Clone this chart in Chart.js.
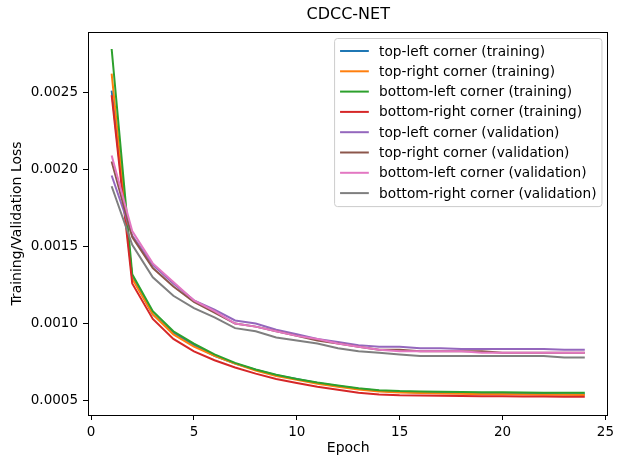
<!DOCTYPE html>
<html>
<head>
<meta charset="utf-8">
<script src="https://cdn.jsdelivr.net/npm/chart.js@4/dist/chart.umd.min.js"></script>
<style>
  html, body { margin: 0; padding: 0; background: #fff; }
  #wrap { width: 618px; height: 457px; position: relative; }
</style>
</head>
<body>
<div id="wrap"><canvas id="loss-chart"></canvas></div>
<script>
// ── Data ────────────────────────────────────────────────────────────────────
const epochs = [1, 2, 3, 4, 5, 6, 7, 8, 9, 10, 11, 12, 13, 14, 15, 16, 17, 18, 19, 20, 21, 22, 23, 24];

const chartTitle = 'CDCC-NET';
const seriesLabels = [
    'top-left corner (training)',
    'top-right corner (training)',
    'bottom-left corner (training)',
    'bottom-right corner (training)',
    'top-left corner (validation)',
    'top-right corner (validation)',
    'bottom-left corner (validation)',
    'bottom-right corner (validation)'
];

const topLeftTrain = [0.00251, 0.00130, 0.00106, 0.00094, 0.00086, 0.00079, 0.00074, 0.00070, 0.000665, 0.00064, 0.000615, 0.000595, 0.000578, 0.000565, 0.000558, 0.000553, 0.00055, 0.000548, 0.000546, 0.000545, 0.000544, 0.000543, 0.000542, 0.000541];
const topRightTrain = [0.00262, 0.00129, 0.00106, 0.00093, 0.00085, 0.00079, 0.00074, 0.000695, 0.00066, 0.000635, 0.00061, 0.00059, 0.000573, 0.00056, 0.000553, 0.000549, 0.000546, 0.000544, 0.000542, 0.000541, 0.00054, 0.000539, 0.000538, 0.000537];
const bottomLeftTrain = [0.00278, 0.00132, 0.00108, 0.00095, 0.00087, 0.0008, 0.000745, 0.000702, 0.000668, 0.00064, 0.000617, 0.000598, 0.00058, 0.000568, 0.000562, 0.00056, 0.000558, 0.000556, 0.000555, 0.000554, 0.000553, 0.000552, 0.000552, 0.000551];
const bottomRightTrain = [0.00248, 0.00126, 0.00103, 0.0009, 0.00082, 0.000762, 0.000715, 0.000675, 0.00064, 0.000614, 0.00059, 0.00057, 0.000552, 0.00054, 0.000535, 0.000533, 0.000531, 0.00053, 0.000529, 0.000528, 0.000527, 0.000527, 0.000526, 0.000525];

const topLeftVal = [0.00196, 0.00157, 0.00138, 0.00126, 0.00115, 0.00109, 0.00102, 0.00100, 0.00096, 0.00093, 0.0009, 0.00088, 0.00086, 0.00085, 0.00085, 0.00084, 0.00084, 0.000835, 0.000835, 0.000835, 0.000835, 0.000835, 0.00083, 0.00083];
const topRightVal = [0.00205, 0.00156, 0.00136, 0.00124, 0.00114, 0.00107, 0.00100, 0.00098, 0.00095, 0.00092, 0.00089, 0.00087, 0.00085, 0.00083, 0.00083, 0.00082, 0.00082, 0.00082, 0.00082, 0.00081, 0.00081, 0.00081, 0.00081, 0.00081];
const bottomLeftVal = [0.00209, 0.00160, 0.00139, 0.00127, 0.00115, 0.00108, 0.00100, 0.00098, 0.00095, 0.00092, 0.0009, 0.00087, 0.00085, 0.00083, 0.00082, 0.00082, 0.00082, 0.00082, 0.00081, 0.00081, 0.00081, 0.00081, 0.00081, 0.00081];
const bottomRightVal = [0.00189, 0.00151, 0.00130, 0.00118, 0.0011, 0.00104, 0.00097, 0.00095, 0.00091, 0.00089, 0.00087, 0.00084, 0.00082, 0.00081, 0.0008, 0.00079, 0.00079, 0.00079, 0.00079, 0.00079, 0.00079, 0.00079, 0.00078, 0.00078];

const xTicks = [0, 5, 10, 15, 20, 25];
const yTicks = [0.0005, 0.0010, 0.0015, 0.0020, 0.0025];

// matplotlib tab10
const COLORS = ['#1f77b4', '#ff7f0e', '#2ca02c', '#d62728', '#9467bd', '#8c564b', '#e377c2', '#7f7f7f'];
const FONT = 'DejaVu Sans';

const allSeries = [topLeftTrain, topRightTrain, bottomLeftTrain, bottomRightTrain,
                   topLeftVal, topRightVal, bottomLeftVal, bottomRightVal];

const datasets = allSeries.map((vals, i) => ({
    label: seriesLabels[i],
    data: epochs.map((e, k) => ({ x: e, y: vals[k] })),
    borderColor: COLORS[i],
    backgroundColor: COLORS[i],
    borderWidth: 2,
    pointRadius: 0,
    tension: 0,
    order: allSeries.length - i   // later series on top, like matplotlib
}));

// title over the axes, frame around the plot, legend inside (upper right)
const framePlugin = {
    id: 'frame',
    afterDatasetsDraw(chart) {
        const { ctx, chartArea: a } = chart;
        ctx.save();
        ctx.strokeStyle = '#000';
        ctx.lineWidth = 1;
        ctx.strokeRect(Math.round(a.left) + 0.5, Math.round(a.top) + 0.5,
                       Math.round(a.right - a.left) - 1, Math.round(a.bottom - a.top));

        ctx.fillStyle = '#000';
        ctx.font = '16px "' + FONT + '"';
        ctx.textAlign = 'center';
        ctx.textBaseline = 'middle';
        ctx.fillText(chartTitle, (a.left + a.right) / 2, 15);

        // legend
        const fs = 13.7;
        ctx.textAlign = 'left';
        ctx.font = fs + 'px "' + FONT + '"';
        const textW = Math.max(...seriesLabels.map(t => ctx.measureText(t).width));
        const pad = 0.4 * fs, handle = 2.1 * fs, gap = 0.75 * fs, rowH = 20.3;
        const boxW = pad + handle + gap + textW + pad;
        const boxH = 12.5 + (seriesLabels.length - 1) * rowH + 13.5;
        const bx = a.right - 6.5 - boxW, by = a.top + 6.5;
        ctx.beginPath();
        ctx.roundRect(bx, by, boxW, boxH, 3);
        ctx.fillStyle = 'rgba(255,255,255,0.8)';
        ctx.fill();
        ctx.strokeStyle = '#cccccc';
        ctx.stroke();
        seriesLabels.forEach((t, i) => {
            const cy = by + 12.5 + i * rowH;
            ctx.strokeStyle = COLORS[i];
            ctx.lineWidth = 2;
            ctx.beginPath();
            ctx.moveTo(bx + pad, cy);
            ctx.lineTo(bx + pad + handle, cy);
            ctx.stroke();
            ctx.fillStyle = '#000';
            ctx.fillText(t, bx + pad + handle + gap, cy + 1);
        });
        ctx.restore();
    }
};

const ctx = document.getElementById('loss-chart').getContext('2d');
new Chart(ctx, {
    type: 'line',
    data: { datasets },
    plugins: [framePlugin],
    options: {
        animation: false,
        responsive: true,
        maintainAspectRatio: false,
        layout: { padding: { left: 0, right: 5, top: 32, bottom: 0 } },
        plugins: {
            legend: { display: false },
            tooltip: { enabled: false },
            title: { display: false }
        },
        scales: {
            x: {
                type: 'linear',
                min: -0.15,
                max: 25.15,
                afterBuildTicks: s => { s.ticks = xTicks.map(v => ({ value: v })); },
                afterFit: s => { s.height = 42; },
                ticks: {
                    color: '#000',
                    font: { family: FONT, size: 13.5 },
                    padding: 4,
                    maxRotation: 0,
                    callback: v => String(v)
                },
                grid: { drawOnChartArea: false, drawTicks: true, tickLength: 5, tickColor: '#000', tickWidth: 1 },
                border: { display: false },
                title: {
                    display: true,
                    text: 'Epoch',
                    color: '#000',
                    font: { family: FONT, size: 14 },
                    padding: { top: 0, bottom: 0 }
                }
            },
            y: {
                min: 0.000407,
                max: 0.00289,
                afterBuildTicks: s => { s.ticks = yTicks.map(v => ({ value: v })); },
                afterFit: s => { s.width = 88; },
                ticks: {
                    color: '#000',
                    font: { family: FONT, size: 13.5 },
                    padding: 5,
                    callback: v => v.toFixed(4)
                },
                grid: { drawOnChartArea: false, drawTicks: true, tickLength: 5, tickColor: '#000', tickWidth: 1 },
                border: { display: false },
                title: {
                    display: true,
                    text: 'Training/Validation Loss',
                    color: '#000',
                    font: { family: FONT, size: 14 },
                    padding: { top: 9, bottom: 0 }
                }
            }
        }
    }
});
</script>
</body>
</html>
